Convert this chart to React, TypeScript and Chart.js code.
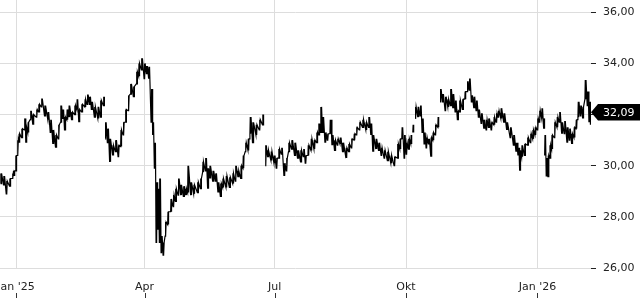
import React, { useEffect, useRef } from "react";
import { Chart, registerables } from "chart.js";

Chart.register(...registerables);

// Sample dates: days since 2025-01-01
const DAYS = [
  -10.5, -8.4, -6.5, -4.2, -2.3, -1.2, 0, 1.2, 2.3, 4.2,
  6.1, 7.2, 8.6, 10.3, 12.1, 14.5, 16.1, 18.0, 20.3, 22.6,
  24.3, 26.1, 28.0, 29.9, 31.5, 32.9, 34.3, 35.9, 37.3, 39.2,
  41.3, 42.9, 44.3, 46.2, 48.5, 50.1, 51.7, 53.1, 55.2, 57.6,
  59.4, 61.5, 62.7, 64.3, 65.9, 68.0, 69.9, 71.8, 73.6, 75.3,
  76.9, 78.8, 80.4, 82.5, 84.6, 86.2, 88.1, 90.0, 91.6, 93.2,
  94.9, 96.0, 97.2, 98.4, 99.5, 100.7, 101.9, 103.3, 104.7, 106.5,
  108.6, 110.3, 111.9, 113.8, 115.6, 117.5, 119.1, 120.5, 122.6, 124.7,
  127.3, 129.4, 131.0, 132.9, 134.5, 135.9, 138.0, 139.9, 141.7, 143.4,
  145.0, 147.3, 149.7, 152.0, 153.8, 155.7, 157.6, 159.2, 160.8, 162.7,
  164.1, 165.9, 168.3, 170.6, 172.9, 174.8, 176.4, 178.8, 180.9, 182.5,
  184.1, 186.0, 187.9, 189.5, 191.1, 193.2, 195.3, 197.4, 199.5, 201.4,
  202.8, 204.7, 206.8, 208.9, 210.7, 212.1, 213.5, 214.9, 216.6, 218.2,
  220.1, 221.5, 223.3, 225.2, 227.1, 228.9, 231.3, 233.1, 235.0, 236.9,
  238.5, 240.6, 242.9, 245.2, 247.1, 248.7, 250.1, 252.2, 254.1, 255.9,
  258.0, 260.3, 262.7, 265.0, 267.3, 269.0, 270.4, 272.0, 273.4, 275.0,
  276.7, 278.1, 279.7, 281.6, 283.2, 284.6, 286.0, 287.4, 289.0, 290.7,
  292.1, 293.7, 295.6, 297.2, 298.8, 300.7, 302.6, 304.4, 306.1, 307.7,
  309.3, 310.7, 312.8, 314.5, 316.1, 317.5, 319.1, 320.8, 322.4, 324.0,
  325.9, 327.8, 329.4, 331.0, 332.9, 334.8, 336.4, 337.8, 339.7, 341.7,
  343.8, 346.2, 348.5, 350.3, 351.7, 352.9, 354.3, 356.2, 358.3, 360.3,
  362.0, 363.6, 365.2, 366.6, 368.3, 369.7, 370.4, 371.5, 372.7, 373.9,
  375.3, 377.1, 379.0, 380.6, 382.3, 384.1, 386.0, 387.6, 389.3, 390.9,
  392.3, 393.7, 395.3, 397.0, 398.6, 400.2, 401.4, 402.2,
];

const HIGH = [
  29.7, 29.6, 29.4, 29.5, 29.7, 29.8, 30.4, 31.0, 31.25, 31.45,
  31.85, 31.5, 31.7, 32.15, 32.0, 32.2, 32.4, 32.63, 32.35, 32.1,
  31.8, 31.4, 31.2, 31.6, 32.35, 32.2, 31.9, 32.2, 32.35, 32.1,
  32.35, 32.6, 32.2, 32.4, 32.6, 32.78, 32.7, 32.5, 32.3, 32.3,
  32.55, 32.7, 31.7, 31.45, 31.05, 30.8, 31.0, 30.8, 31.4, 31.7,
  32.2, 32.75, 33.2, 33.1, 33.67, 34.0, 34.2, 34.0, 33.9, 33.87,
  33.0, 31.7, 30.9, 29.35, 29.1, 29.5, 27.25, 27.0, 27.8, 28.2,
  28.7, 28.85, 29.1, 29.5, 29.25, 29.2, 29.1, 30.0, 29.35, 29.25,
  29.35, 29.5, 30.15, 30.3, 29.9, 30.0, 29.8, 29.7, 29.35, 29.3,
  29.5, 29.6, 29.55, 29.7, 30.0, 29.8, 30.0, 30.4, 30.9, 31.05,
  31.9, 31.7, 31.6, 31.8, 32.0, 30.8, 30.6, 30.55, 30.4, 30.3,
  30.65, 30.7, 30.1, 30.3, 30.9, 31.0, 30.9, 30.6, 30.6, 30.65,
  30.4, 30.8, 31.05, 31.0, 31.3, 31.65, 32.3, 31.9, 31.3, 31.25,
  31.8, 31.2, 31.0, 31.05, 31.1, 30.9, 30.7, 30.85, 31.05, 31.25,
  31.5, 31.7, 31.8, 31.7, 31.9, 31.65, 31.2, 31.05, 30.9, 30.7,
  30.6, 30.55, 30.4, 30.35, 30.85, 31.05, 31.5, 31.2, 30.9, 31.05,
  31.2, 31.6, 32.3, 32.3, 32.35, 31.85, 31.3, 31.1, 31.05, 31.1,
  31.3, 31.6, 31.9, 33.0, 32.8, 32.7, 32.6, 33.0, 32.8, 32.55,
  32.15, 32.55, 32.6, 32.9, 33.3, 33.41, 32.75, 32.7, 32.55, 32.2,
  32.05, 31.8, 31.8, 31.85, 31.7, 31.9, 32.05, 32.15, 32.25, 32.05,
  31.7, 31.5, 31.2, 30.9, 30.7, 30.6, 30.8, 30.85, 31.1, 31.25,
  31.4, 31.5, 31.85, 32.15, 32.25, 31.85, 31.2, 30.3, 30.4, 30.8,
  31.2, 31.7, 31.9, 32.1, 31.7, 31.75, 31.5, 31.45, 31.25, 31.5,
  31.8, 32.5, 32.35, 32.3, 33.35, 32.9, 32.5, 32.09,
];

const LOW = [
  29.3, 29.25, 28.9, 29.2, 29.5, 29.6, 29.8, 30.4, 30.9, 31.1,
  31.4, 30.9, 31.3, 31.8, 31.6, 31.9, 32.1, 32.3, 31.95, 31.8,
  31.3, 30.85, 30.73, 31.05, 31.7, 31.85, 31.4, 31.8, 31.9, 31.8,
  32.0, 32.2, 31.7, 32.1, 32.3, 32.4, 32.4, 32.2, 31.9, 31.85,
  31.9, 32.35, 31.05, 30.9, 30.15, 30.4, 30.55, 30.35, 30.75, 31.2,
  31.7, 32.15, 32.8, 32.7, 33.2, 33.5, 33.75, 33.4, 33.6, 33.4,
  31.7, 31.2, 29.9, 27.0, 27.5, 27.0, 26.6, 26.5, 27.25, 27.7,
  28.2, 28.4, 28.6, 28.85, 28.85, 28.8, 28.85, 28.95, 28.85, 28.9,
  28.95, 29.1, 29.75, 29.8, 29.1, 29.5, 29.4, 29.4, 28.95, 28.8,
  29.15, 29.15, 29.15, 29.3, 29.4, 29.55, 29.5, 29.9, 30.55, 30.6,
  31.25, 30.9, 31.2, 31.4, 31.6, 30.0, 30.35, 30.2, 30.1, 29.9,
  30.3, 30.45, 29.6, 29.8, 30.55, 30.65, 30.4, 30.3, 30.15, 30.35,
  30.1, 30.4, 30.6, 30.65, 30.9, 31.2, 31.3, 31.3, 30.9, 31.0,
  31.25, 30.8, 30.6, 30.8, 30.85, 30.55, 30.3, 30.55, 30.7, 31.0,
  31.2, 31.4, 31.5, 31.4, 31.5, 31.2, 30.55, 30.65, 30.6, 30.4,
  30.3, 30.2, 30.1, 30.0, 30.3, 30.65, 31.05, 30.3, 30.45, 30.65,
  30.85, 31.3, 31.85, 31.9, 31.95, 31.3, 30.85, 30.7, 30.85, 30.35,
  31.0, 31.2, 31.5, 32.5, 32.5, 32.15, 32.3, 32.35, 32.25, 32.1,
  31.8, 32.1, 32.2, 32.6, 32.9, 32.95, 32.5, 32.25, 32.15, 31.9,
  31.65, 31.45, 31.4, 31.5, 31.4, 31.6, 31.7, 31.9, 31.85, 31.7,
  31.4, 31.1, 30.8, 30.55, 30.4, 29.8, 30.35, 30.4, 30.8, 30.9,
  31.05, 31.2, 31.4, 31.7, 31.85, 31.45, 30.4, 29.6, 29.55, 30.3,
  30.65, 31.1, 31.5, 31.7, 31.25, 31.25, 30.9, 31.0, 30.85, 31.1,
  31.45, 31.9, 31.95, 31.85, 32.6, 32.35, 31.7, 31.6,
];

// sample indices where the trace breaks (missing data before them)
const GAP_BEFORE = [42, 105, 161, 162, 173, 216];

const LAST_PRICE = 32.09;
const LAST_DAY = 402.4;

const X_TICKS = [0, 90, 181, 273, 365];
const X_LABELS = ["Jan '25", "Apr", "Jul", "Okt", "Jan '26"];
const Y_TICKS = [26, 28, 30, 32, 34, 36];
const X_MIN = -11.2;
const X_MAX = 402.5;
const Y_MIN = 26;
const Y_MAX = 36.48;

const fmt = (v: number) => v.toFixed(2).replace(".", ",");

const FONT = "'DejaVu Sans', 'Liberation Sans', sans-serif";

export default function App() {
  const ref = useRef<HTMLCanvasElement>(null);

  useEffect(() => {
    document.body.style.margin = "0";
    if (!ref.current) return;
    Chart.defaults.font.family = FONT;
    Chart.defaults.font.size = 11;

    const gaps = new Set(GAP_BEFORE);
    const pts: { x: number; y: number | null }[] = [];
    DAYS.forEach((d, i) => {
      if (gaps.has(i)) pts.push({ x: d - 0.36, y: null });
      // each sample: a low-to-high stroke, then the next sample starts at its low
      pts.push(
        { x: d - 0.35, y: LOW[i] },
        { x: d - 0.1, y: HIGH[i] },
        { x: d + 0.15, y: LOW[i] },
        { x: d + 0.4, y: HIGH[i] }
      );
    });
    pts.push({ x: LAST_DAY, y: LAST_PRICE });

    const overlay = {
      id: "overlay",
      afterDraw(chart: any) {
        const { ctx, scales, chartArea } = chart;
        const x = scales.x;
        const y = scales.y;
        ctx.save();
        ctx.strokeStyle = "#333";
        ctx.lineWidth = 1;
        X_TICKS.forEach((t) => {
          const px = Math.round(x.getPixelForValue(t)) + 0.5;
          ctx.beginPath();
          ctx.moveTo(px, chart.height - 7);
          ctx.lineTo(px, chart.height - 2);
          ctx.stroke();
        });
        const py = y.getPixelForValue(LAST_PRICE);
        const left = chartArea.right;
        const h = 8.3;
        ctx.fillStyle = "#000";
        ctx.beginPath();
        ctx.moveTo(left, py);
        ctx.lineTo(left + 7, py - h);
        ctx.lineTo(chart.width, py - h);
        ctx.lineTo(chart.width, py + h);
        ctx.lineTo(left + 7, py + h);
        ctx.closePath();
        ctx.fill();
        ctx.fillStyle = "#fff";
        ctx.font = `11px ${FONT}`;
        ctx.textBaseline = "middle";
        ctx.textAlign = "left";
        ctx.fillText(fmt(LAST_PRICE), left + 12, py + 0.5);
        ctx.restore();
      },
    };

    const chart = new Chart(ref.current, {
      type: "line",
      data: {
        datasets: [
          {
            data: pts as any,
            borderColor: "#000",
            borderWidth: 1.2,
            pointRadius: 0,
            tension: 0,
            spanGaps: false,
            fill: false,
          },
        ],
      },
      options: {
        animation: false,
        responsive: false,
        events: [],
        layout: { padding: 0 },
        plugins: { legend: { display: false }, tooltip: { enabled: false } },
        scales: {
          x: {
            type: "linear",
            position: "bottom",
            min: X_MIN,
            max: X_MAX,
            afterBuildTicks: (s: any) => {
              s.ticks = X_TICKS.map((v) => ({ value: v }));
            },
            afterFit: (s: any) => {
              s.height = 32;
              s.paddingLeft = 0;
              s.paddingRight = 0;
            },
            ticks: {
              callback: (v: any) => {
                const i = X_TICKS.indexOf(Number(v));
                return i >= 0 ? X_LABELS[i] : "";
              },
              autoSkip: false,
              maxRotation: 0,
              minRotation: 0,
              padding: 13,
              color: "#222",
              font: { size: 11, family: FONT },
            },
            grid: { color: "#dddddd", drawTicks: false, lineWidth: 1 },
            border: { display: false },
          },
          y: {
            type: "linear",
            position: "right",
            min: Y_MIN,
            max: Y_MAX,
            afterBuildTicks: (s: any) => {
              s.ticks = Y_TICKS.map((v) => ({ value: v }));
            },
            afterFit: (s: any) => {
              s.width = 49;
              s.paddingTop = 0;
              s.paddingBottom = 0;
            },
            ticks: {
              callback: (v: any) => fmt(Number(v)),
              padding: 7,
              color: "#222",
              font: { size: 11, family: FONT },
            },
            grid: {
              color: "#dddddd",
              tickColor: "#222",
              tickLength: 5,
              lineWidth: 1,
            },
            border: { display: false },
          },
        },
      },
      plugins: [overlay],
    });

    return () => chart.destroy();
  }, []);

  return (
    <div style={{ width: 640, height: 300, background: "#fff" }}>
      <canvas ref={ref} width={640} height={300} style={{ display: "block" }} />
    </div>
  );
}
